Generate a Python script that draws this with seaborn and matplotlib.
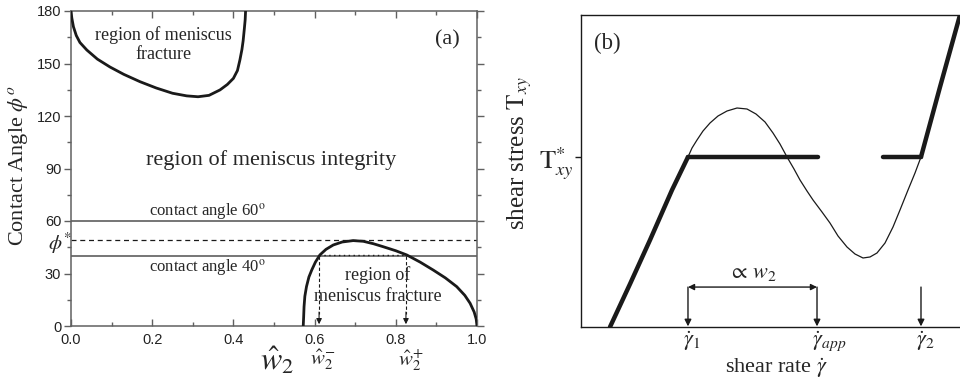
import numpy as np
import pandas as pd
import matplotlib
matplotlib.use("Agg")
import matplotlib.pyplot as plt
from matplotlib.ticker import MultipleLocator
import matplotlib.transforms as mtrans
import seaborn as sns

# ---------------- data: panel (a) ----------------
top_curve_x = [0.0, 0.002, 0.006, 0.013, 0.022, 0.039, 0.065, 0.096, 0.13, 0.17, 0.21, 0.25,
               0.285, 0.313, 0.34, 0.367, 0.385, 0.40, 0.41, 0.416, 0.421, 0.424, 0.427, 0.429, 0.43]
top_curve_y = [180, 176, 171, 166, 162, 157.7, 152.5, 148, 143.8, 139.6, 136, 133,
               131.5, 131, 131.8, 134.9, 138, 141.5, 146, 152, 158, 163, 170, 175, 180]
bot_curve_x = [0.572, 0.573, 0.574, 0.576, 0.58, 0.586, 0.593, 0.602, 0.613, 0.628, 0.646, 0.668,
               0.695, 0.72, 0.745, 0.769, 0.80, 0.827, 0.86, 0.892, 0.922, 0.95, 0.97, 0.983,
               0.993, 0.998, 1.0]
bot_curve_y = [0, 5, 11, 17, 22.5, 28, 32, 36.5, 40.6, 43.8, 46.3, 48.0,
               48.8, 48.4, 47.0, 45.3, 43, 40.6, 36.5, 32, 27.5, 22.5, 17.5, 13,
               8, 4, 0]
angle_lines = [60, 40]
phi_star = 49
w_minus = 0.611
w_plus = 0.825
x_ticks_a = [0.0, 0.2, 0.4, 0.6, 0.8, 1.0]
y_ticks_a = [0, 30, 60, 90, 120, 150, 180]

# ---------------- data: panel (b) ----------------
curve_x = [0.755, 1.276, 1.797, 2.370, 2.786, 2.891, 3.021, 3.177, 3.359, 3.568, 3.802,
           4.063, 4.323, 4.557, 4.792, 5.000, 5.182, 5.365, 5.547, 5.703, 5.885, 6.042,
           6.276, 6.484, 6.693, 6.927, 7.135, 7.344, 7.526, 7.708, 7.917, 8.125, 8.307,
           8.516, 8.698, 8.854, 9.349, 9.870]
curve_y = [0.0, 1.378, 2.788, 4.391, 5.449, 5.737, 5.994, 6.282, 6.538, 6.763, 6.923,
           7.019, 6.987, 6.827, 6.571, 6.218, 5.865, 5.449, 5.064, 4.712, 4.359, 4.071,
           3.686, 3.333, 2.917, 2.564, 2.340, 2.212, 2.244, 2.372, 2.692, 3.205, 3.750,
           4.391, 4.936, 5.449, 7.692, 10.0]
stress_star = 5.449
gamma_1 = 2.786
gamma_app = 6.146
gamma_2 = 8.854
plateau1_end = 6.17
plateau2_start = 7.86

# ---------------- style ----------------
sns.set_theme(style="ticks")
plt.rcParams["font.family"] = ["Liberation Serif", "DejaVu Serif"]
plt.rcParams["mathtext.fontset"] = "stix"

fig = plt.figure(figsize=(9.6, 3.88), dpi=100)

# ================= panel (a) =================
axa = fig.add_axes([71 / 960, 1 - 326 / 388, 406 / 960, 315 / 388])
axa.set_xlim(0, 1)
axa.set_ylim(0, 180)
gray = "#606060"
for sp in axa.spines.values():
    sp.set_color(gray)
    sp.set_linewidth(1.1)
    sp.set_visible(True)

for ang in angle_lines:
    axa.axhline(ang, color="#6a6a6a", lw=1.3, zorder=2)
axa.axhline(phi_star, color="k", lw=0.9, ls=(0, (4, 3)), zorder=2)

sns.lineplot(x=top_curve_x, y=top_curve_y, ax=axa, color="k", lw=2.0,
             sort=False, estimator=None, zorder=4)
sns.lineplot(x=bot_curve_x, y=bot_curve_y, ax=axa, color="k", lw=2.0,
             sort=False, estimator=None, zorder=4)

# dotted line at 40 between w- and w+
axa.plot([w_minus, w_plus], [angle_lines[1] + 0.6] * 2, color="k", lw=1.0,
         ls=(0, (1, 2.5)), zorder=3)
for wv in [w_minus, w_plus]:
    axa.plot([wv, wv], [angle_lines[1], 7], color="k", lw=0.8, ls=(0, (3, 2)), zorder=3)
    axa.annotate("", xy=(wv, 1.0), xytext=(wv, 8),
                 arrowprops=dict(arrowstyle="-|>", color="k", lw=0.8,
                                 mutation_scale=8, shrinkA=0, shrinkB=0))

axa.set_xticks(x_ticks_a)
axa.set_yticks(y_ticks_a)
axa.set_xticklabels([f"{v:.1f}" for v in x_ticks_a], fontfamily="Liberation Sans", fontsize=10.5)
axa.set_yticklabels([str(v) for v in y_ticks_a], fontfamily="Liberation Sans", fontsize=10.5)
axa.xaxis.set_minor_locator(MultipleLocator(0.1))
axa.yaxis.set_minor_locator(MultipleLocator(15))
axa.tick_params(axis="x", which="both", direction="in", top=True, bottom=True,
                color=gray, labelcolor="#222222", pad=5)
axa.tick_params(axis="y", which="both", direction="out", left=True, right=True,
                color=gray, labelcolor="#222222", pad=2)
axa.tick_params(which="major", length=5, width=1)
axa.tick_params(which="minor", length=3, width=1)

axa.text(0.227, 161, "region of meniscus\nfracture", ha="center", va="center",
         fontsize=13, linespacing=1.15)
axa.text(0.926, 163.4, "(a)", ha="center", va="center", fontsize=16)
axa.text(0.493, 95, "region of meniscus integrity", ha="center", va="center", fontsize=16)
axa.text(0.337, 65.5, "contact angle 60$^{\\mathrm{o}}$", ha="center", va="center", fontsize=12)
axa.text(0.337, 33.5, "contact angle 40$^{\\mathrm{o}}$", ha="center", va="center", fontsize=12)
axa.text(0.756, 29.0, "region of", ha="center", va="center", fontsize=13)
axa.text(0.756, 16.6, "meniscus fracture", ha="center", va="center", fontsize=13)

trans_a = mtrans.blended_transform_factory(axa.transAxes, axa.transData)
axa.text(-0.027, phi_star - 1.5, "$\\phi^{*}$", ha="center", va="center", fontsize=15,
         transform=trans_a)

fig.text(18 / 960, 1 - 166 / 388, "Contact Angle $\\phi^{o}$", rotation=90,
         ha="center", va="center", fontsize=16)
fig.text(277 / 960, 1 - 361 / 388, "$\\hat{w}_2$", ha="center", va="center", fontsize=23)
fig.text(323 / 960, 1 - 360 / 388, "$\\hat{w}_2^{-}$", ha="center", va="center", fontsize=15)
fig.text(411 / 960, 1 - 360 / 388, "$\\hat{w}_2^{+}$", ha="center", va="center", fontsize=15)

# ================= panel (b) =================
axb = fig.add_axes([581 / 960, 1 - 327 / 388, 384 / 960, 312 / 388])
axb.set_xlim(0, 10)
axb.set_ylim(0, 10)
for sp in axb.spines.values():
    sp.set_color("k")
    sp.set_linewidth(1.0)
    sp.set_visible(True)

sns.lineplot(x=curve_x, y=curve_y, ax=axb, color="k", lw=0.9,
             sort=False, estimator=None, zorder=3)
# thick stable branches
sns.lineplot(x=curve_x[:5], y=curve_y[:5], ax=axb, color="k", lw=3.2,
             sort=False, estimator=None, zorder=4)
sns.lineplot(x=curve_x[-3:], y=curve_y[-3:], ax=axb, color="k", lw=3.2,
             sort=False, estimator=None, zorder=4)
axb.plot([gamma_1, plateau1_end], [stress_star, stress_star], color="k", lw=3.2,
         solid_capstyle="round", zorder=4)
axb.plot([plateau2_start, gamma_2], [stress_star, stress_star], color="k", lw=3.2,
         solid_capstyle="round", zorder=4)

for gx in [gamma_1, gamma_app, gamma_2]:
    axb.annotate("", xy=(gx, 0.02), xytext=(gx, 1.28),
                 arrowprops=dict(arrowstyle="-|>", color="k", lw=1.0,
                                 mutation_scale=10, shrinkA=0, shrinkB=0))
axb.annotate("", xy=(gamma_1, 1.28), xytext=(gamma_app, 1.28),
             arrowprops=dict(arrowstyle="<|-|>", color="k", lw=1.0,
                             mutation_scale=9, shrinkA=0, shrinkB=0))
axb.text((gamma_1 + gamma_app) / 2, 1.72, "$\\propto\\, w_2$", ha="center",
         va="center", fontsize=16)
axb.text(0.68, 9.1, "(b)", ha="center", va="center", fontsize=16.5)

axb.set_xticks([gamma_1, gamma_app, gamma_2])
axb.set_xticklabels(["", "", ""])
axb.tick_params(axis="x", length=0)
trans_b = mtrans.blended_transform_factory(axb.transData, axb.transAxes)
for gx, lab in [(gamma_1, "$\\dot{\\gamma}_1$"), (gamma_app, "$\\dot{\\gamma}_{app}$"),
                (gamma_2, "$\\dot{\\gamma}_2$")]:
    axb.text(gx - 0.13, -0.008, lab, ha="left", va="top", fontsize=16, transform=trans_b)

axb.set_yticks([stress_star])
axb.set_yticklabels(["$\\mathrm{T}^{*}_{xy}$"], fontsize=19)
axb.tick_params(axis="y", direction="out", length=4, width=1, color="k", pad=1)

fig.text(520 / 960, 1 - 153 / 388, "shear stress $\\mathrm{T}_{xy}$", rotation=90,
         ha="center", va="center", fontsize=18)
fig.text(777 / 960, 1 - 368 / 388, "shear rate $\\dot{\\gamma}$", ha="center",
         va="center", fontsize=16)

fig.savefig("out.png", dpi=100)
